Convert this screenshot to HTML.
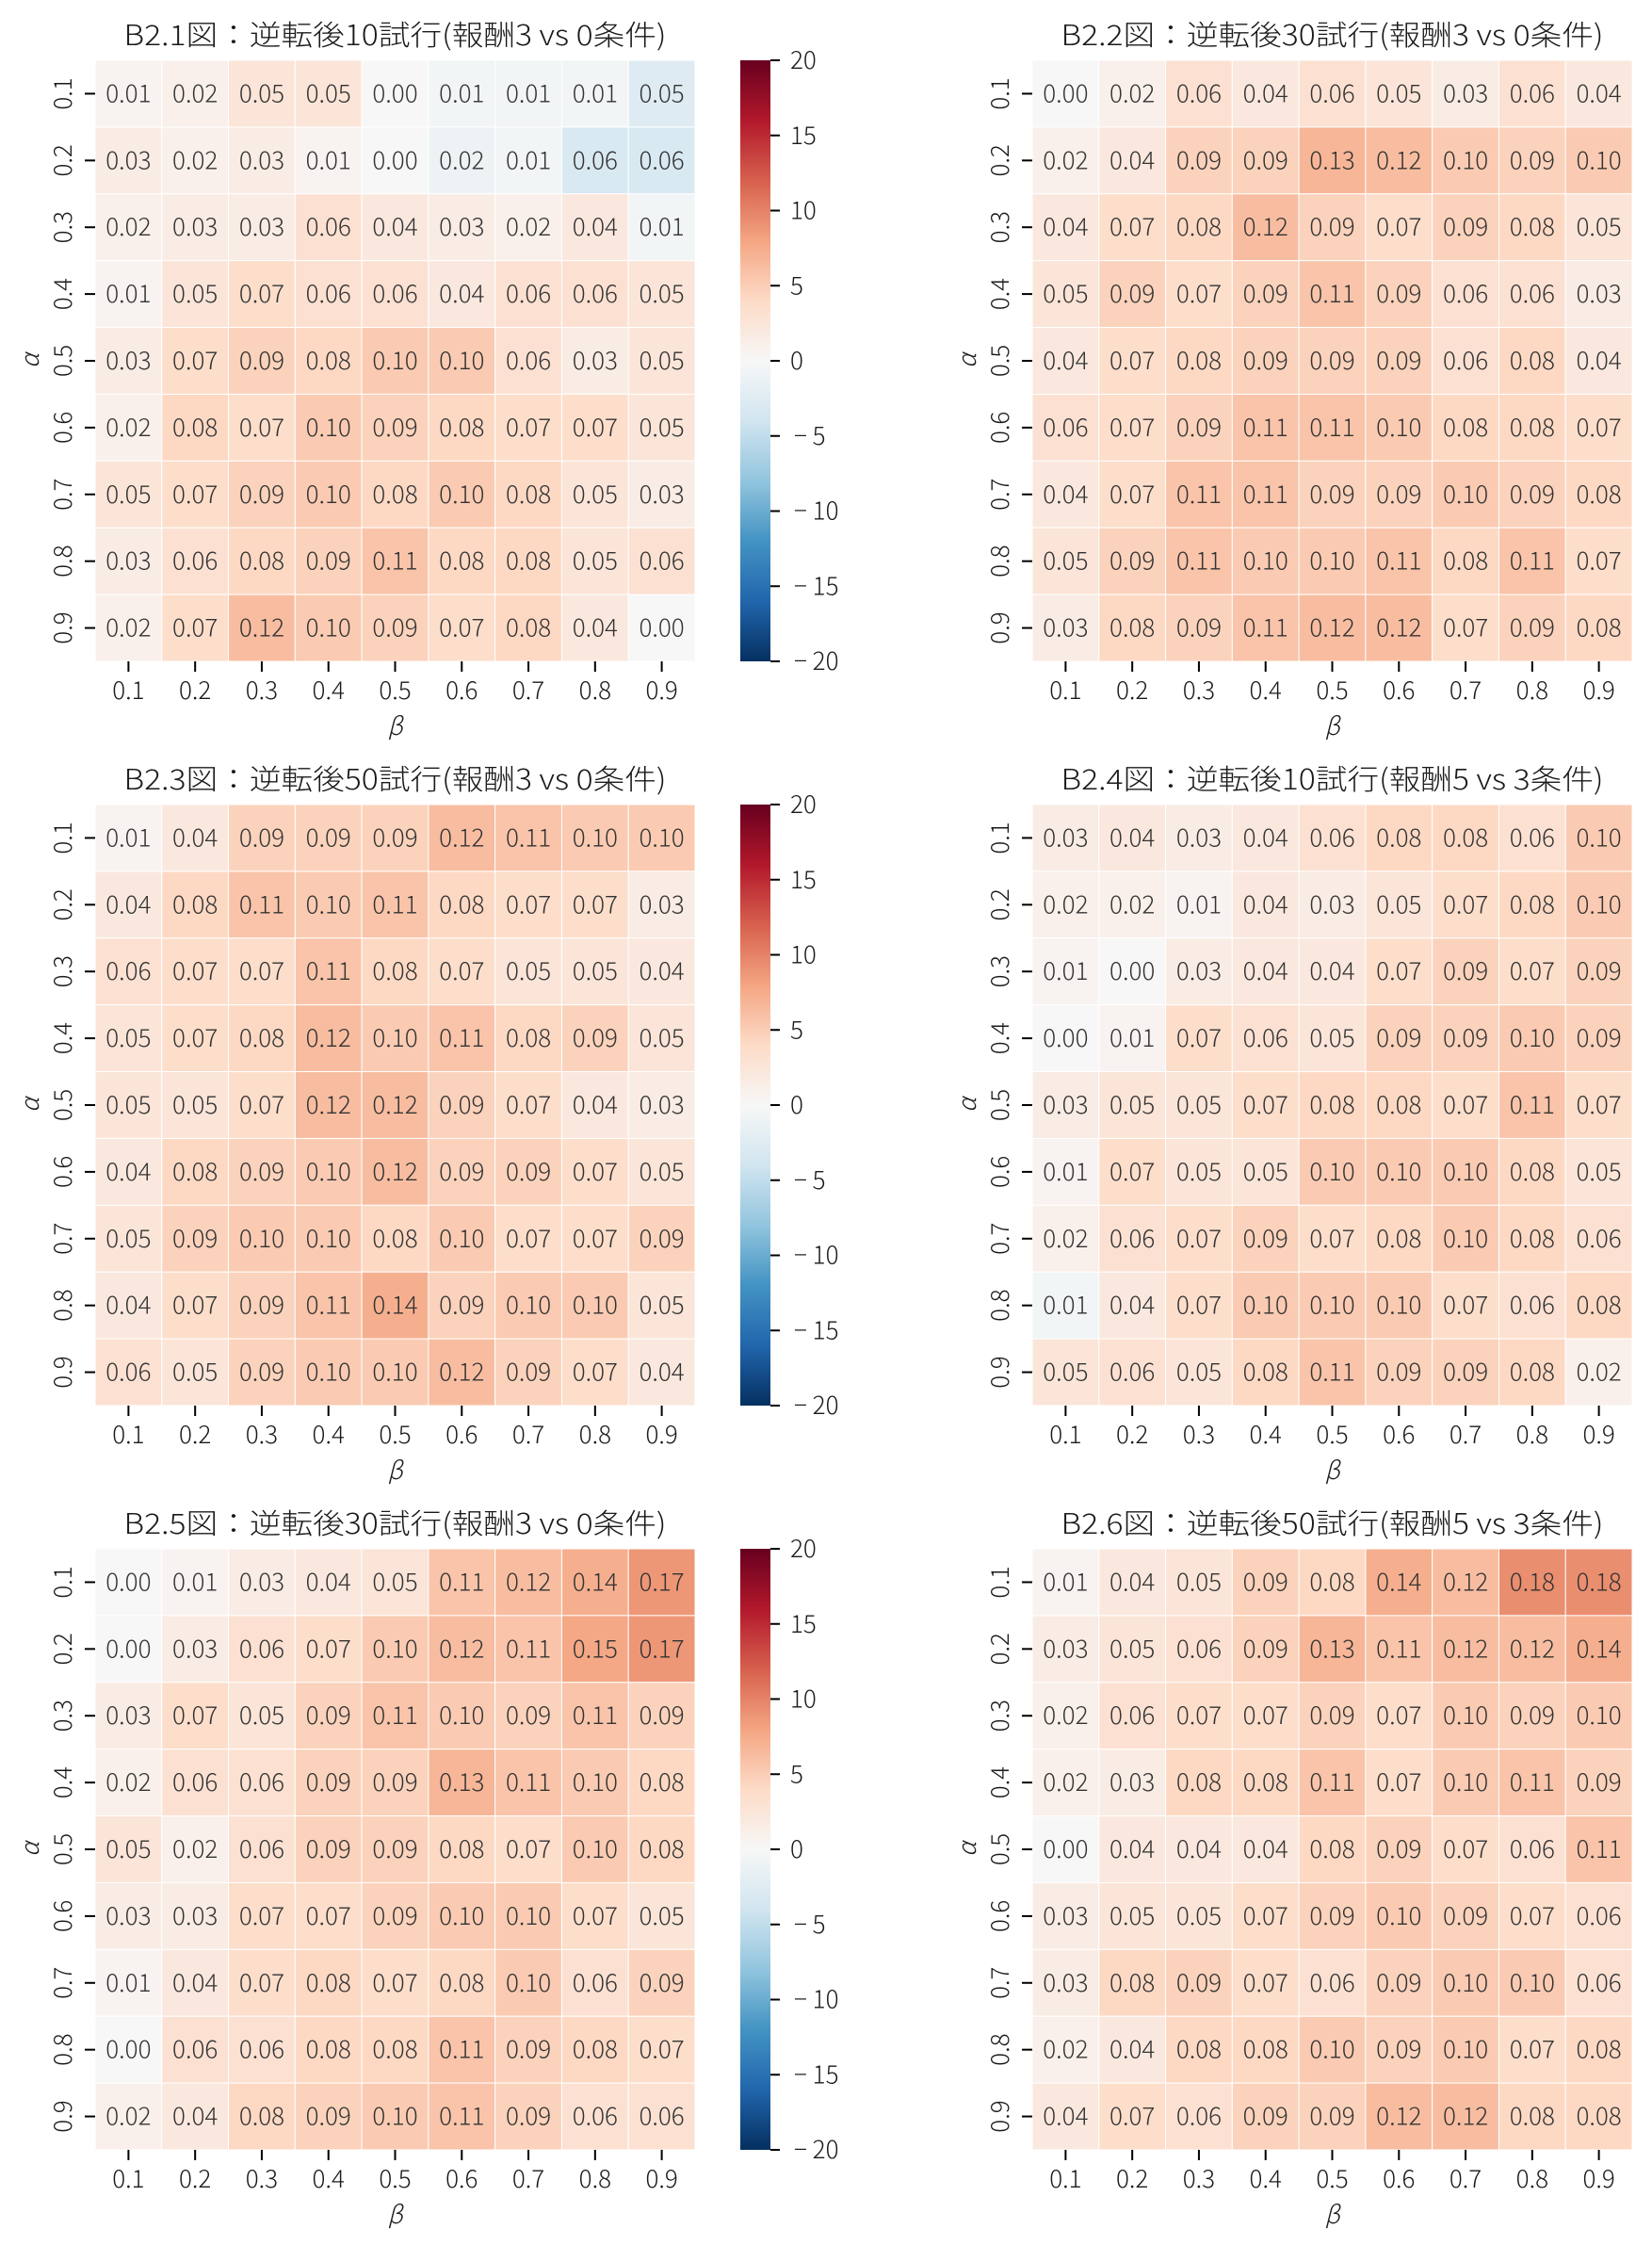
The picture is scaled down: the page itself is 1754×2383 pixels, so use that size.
<!DOCTYPE html>
<html><head><meta charset="utf-8">
<style>
html,body{margin:0;padding:0;background:#fff;}
svg{display:block;font-family:"Noto Sans CJK JP","Liberation Sans",sans-serif;font-weight:300;}
</style></head>
<body>
<svg id="fig" width="1754" height="2383" viewBox="0 0 1754 2383" xmlns="http://www.w3.org/2000/svg">
<defs>
<linearGradient id="cbgrad" x1="0" y1="1" x2="0" y2="0">
<stop offset="0" stop-color="#053061"/><stop offset="0.1" stop-color="#2166ac"/><stop offset="0.2" stop-color="#4393c3"/><stop offset="0.3" stop-color="#92c5de"/><stop offset="0.4" stop-color="#d1e5f0"/><stop offset="0.5" stop-color="#f7f7f7"/><stop offset="0.6" stop-color="#fddbc7"/><stop offset="0.7" stop-color="#f4a582"/><stop offset="0.8" stop-color="#d6604d"/><stop offset="0.9" stop-color="#b2182b"/><stop offset="1" stop-color="#67001f"/>
</linearGradient>
</defs>
</svg>
<script>
const alphaLabels = ["0.1","0.2","0.3","0.4","0.5","0.6","0.7","0.8","0.9"];
const betaLabels = ["0.1","0.2","0.3","0.4","0.5","0.6","0.7","0.8","0.9"];
const cbTicks = [20,15,10,5,0,-5,-10,-15,-20];
const titles = [
 "B2.1図：逆転後10試行(報酬3 vs 0条件)",
 "B2.2図：逆転後30試行(報酬3 vs 0条件)",
 "B2.3図：逆転後50試行(報酬3 vs 0条件)",
 "B2.4図：逆転後10試行(報酬5 vs 3条件)",
 "B2.5図：逆転後30試行(報酬3 vs 0条件)",
 "B2.6図：逆転後50試行(報酬5 vs 3条件)"
];
const dataB21 = [
 [0.01,0.02,0.05,0.05,-0.00,-0.01,-0.01,-0.01,-0.05],
 [0.03,0.02,0.03,0.01,-0.00,-0.02,-0.01,-0.06,-0.06],
 [0.02,0.03,0.03,0.06,0.04,0.03,0.02,0.04,-0.01],
 [0.01,0.05,0.07,0.06,0.06,0.04,0.06,0.06,0.05],
 [0.03,0.07,0.09,0.08,0.10,0.10,0.06,0.03,0.05],
 [0.02,0.08,0.07,0.10,0.09,0.08,0.07,0.07,0.05],
 [0.05,0.07,0.09,0.10,0.08,0.10,0.08,0.05,0.03],
 [0.03,0.06,0.08,0.09,0.11,0.08,0.08,0.05,0.06],
 [0.02,0.07,0.12,0.10,0.09,0.07,0.08,0.04,0.00]
];
const dataB22 = [
 [0.00,0.02,0.06,0.04,0.06,0.05,0.03,0.06,0.04],
 [0.02,0.04,0.09,0.09,0.13,0.12,0.10,0.09,0.10],
 [0.04,0.07,0.08,0.12,0.09,0.07,0.09,0.08,0.05],
 [0.05,0.09,0.07,0.09,0.11,0.09,0.06,0.06,0.03],
 [0.04,0.07,0.08,0.09,0.09,0.09,0.06,0.08,0.04],
 [0.06,0.07,0.09,0.11,0.11,0.10,0.08,0.08,0.07],
 [0.04,0.07,0.11,0.11,0.09,0.09,0.10,0.09,0.08],
 [0.05,0.09,0.11,0.10,0.10,0.11,0.08,0.11,0.07],
 [0.03,0.08,0.09,0.11,0.12,0.12,0.07,0.09,0.08]
];
const dataB23 = [
 [0.01,0.04,0.09,0.09,0.09,0.12,0.11,0.10,0.10],
 [0.04,0.08,0.11,0.10,0.11,0.08,0.07,0.07,0.03],
 [0.06,0.07,0.07,0.11,0.08,0.07,0.05,0.05,0.04],
 [0.05,0.07,0.08,0.12,0.10,0.11,0.08,0.09,0.05],
 [0.05,0.05,0.07,0.12,0.12,0.09,0.07,0.04,0.03],
 [0.04,0.08,0.09,0.10,0.12,0.09,0.09,0.07,0.05],
 [0.05,0.09,0.10,0.10,0.08,0.10,0.07,0.07,0.09],
 [0.04,0.07,0.09,0.11,0.14,0.09,0.10,0.10,0.05],
 [0.06,0.05,0.09,0.10,0.10,0.12,0.09,0.07,0.04]
];
const dataB24 = [
 [0.03,0.04,0.03,0.04,0.06,0.08,0.08,0.06,0.10],
 [0.02,0.02,0.01,0.04,0.03,0.05,0.07,0.08,0.10],
 [0.01,-0.00,0.03,0.04,0.04,0.07,0.09,0.07,0.09],
 [0.00,0.01,0.07,0.06,0.05,0.09,0.09,0.10,0.09],
 [0.03,0.05,0.05,0.07,0.08,0.08,0.07,0.11,0.07],
 [0.01,0.07,0.05,0.05,0.10,0.10,0.10,0.08,0.05],
 [0.02,0.06,0.07,0.09,0.07,0.08,0.10,0.08,0.06],
 [-0.01,0.04,0.07,0.10,0.10,0.10,0.07,0.06,0.08],
 [0.05,0.06,0.05,0.08,0.11,0.09,0.09,0.08,0.02]
];
const dataB25 = [
 [0.00,0.01,0.03,0.04,0.05,0.11,0.12,0.14,0.17],
 [0.00,0.03,0.06,0.07,0.10,0.12,0.11,0.15,0.17],
 [0.03,0.07,0.05,0.09,0.11,0.10,0.09,0.11,0.09],
 [0.02,0.06,0.06,0.09,0.09,0.13,0.11,0.10,0.08],
 [0.05,0.02,0.06,0.09,0.09,0.08,0.07,0.10,0.08],
 [0.03,0.03,0.07,0.07,0.09,0.10,0.10,0.07,0.05],
 [0.01,0.04,0.07,0.08,0.07,0.08,0.10,0.06,0.09],
 [0.00,0.06,0.06,0.08,0.08,0.11,0.09,0.08,0.07],
 [0.02,0.04,0.08,0.09,0.10,0.11,0.09,0.06,0.06]
];
const dataB26 = [
 [0.01,0.04,0.05,0.09,0.08,0.14,0.12,0.18,0.18],
 [0.03,0.05,0.06,0.09,0.13,0.11,0.12,0.12,0.14],
 [0.02,0.06,0.07,0.07,0.09,0.07,0.10,0.09,0.10],
 [0.02,0.03,0.08,0.08,0.11,0.07,0.10,0.11,0.09],
 [0.00,0.04,0.04,0.04,0.08,0.09,0.07,0.06,0.11],
 [0.03,0.05,0.05,0.07,0.09,0.10,0.09,0.07,0.06],
 [0.03,0.08,0.09,0.07,0.06,0.09,0.10,0.10,0.06],
 [0.02,0.04,0.08,0.08,0.10,0.09,0.10,0.07,0.08],
 [0.04,0.07,0.06,0.09,0.09,0.12,0.12,0.08,0.08]
];
const panels = [dataB21,dataB22,dataB23,dataB24,dataB25,dataB26];

const NS = "http://www.w3.org/2000/svg";
const svg = document.getElementById("fig");
const stops = ["#053061","#2166ac","#4393c3","#92c5de","#d1e5f0","#f7f7f7","#fddbc7","#f4a582","#d6604d","#b2182b","#67001f"];
const VMIN=-20, VMAX=20, SCALE=52;
function hex(c){return [1,3,5].map(i=>parseInt(c.substr(i,2),16));}
function cmap(v){
  let t=(v-VMIN)/(VMAX-VMIN); t=Math.max(0,Math.min(1,t));
  const p=t*10, i=Math.min(9,Math.floor(p)), f=p-i;
  const a=hex(stops[i]), b=hex(stops[i+1]);
  return "rgb("+a.map((x,k)=>Math.round(x+(b[k]-x)*f)).join(",")+")";
}
function el(tag,attrs,parent){const e=document.createElementNS(NS,tag);for(const k in attrs)e.setAttribute(k,attrs[k]);parent.appendChild(e);return e;}

const W=637, H=638, N=9;
const cw=W/N, ch=H/N;
const lefts=[101,1096], tops=[64,854,1644];

panels.forEach((data,pi)=>{
  const col=pi%2, row=Math.floor(pi/2);
  const x0=lefts[col], y0=tops[row];
  const xScale=j=>x0+j*cw;
  const yScale=i=>y0+i*ch;
  const g=el("g",{},svg);
  
  
  const title=el("text",{x:x0+W/2,y:y0-16,"text-anchor":"middle","font-size":"30",fill:"#1a1a1a",textLength:"576",lengthAdjust:"spacingAndGlyphs"},g);
  title.textContent=titles[pi];
  
  
  data.forEach((rowv,i)=>rowv.forEach((v,j)=>{
    const r=el("rect",{x:xScale(j),y:yScale(i),width:cw,height:ch,fill:cmap(v*SCALE),stroke:"#fff","stroke-width":"1"},g);
    
    
    const t=el("text",{x:xScale(j)+cw/2,y:yScale(i)+ch/2+9,"text-anchor":"middle","font-size":"26",fill:"#333"},g);
    t.textContent=Math.abs(v).toFixed(2);
    
    
  }));
  alphaLabels.forEach((lab,i)=>{
    const cy=yScale(i)+ch/2;
    el("line",{x1:x0-11,x2:x0,y1:cy,y2:cy,stroke:"#000","stroke-width":"2"},g);
    const t=el("text",{x:0,y:0,"text-anchor":"middle","font-size":"26",fill:"#1a1a1a",transform:"translate("+(x0-25)+","+cy+") rotate(-90)"},g);
    t.textContent=lab;
    
    
  });
  betaLabels.forEach((lab,j)=>{
    const cx=xScale(j)+cw/2;
    el("line",{x1:cx,x2:cx,y1:y0+H,y2:y0+H+11,stroke:"#000","stroke-width":"2"},g);
    const t=el("text",{x:cx,y:y0+H+40,"text-anchor":"middle","font-size":"26",fill:"#1a1a1a"},g);
    t.textContent=lab;
    
    
  });
  const xl=el("text",{x:x0+W/2,y:y0+H+78,"text-anchor":"middle","font-size":"26","font-style":"italic",fill:"#1a1a1a"},g);
  xl.textContent="β";
  
  
  const yl=el("text",{x:0,y:0,"text-anchor":"middle","font-size":"26","font-style":"italic",fill:"#1a1a1a",transform:"translate("+(x0-60)+","+(y0+H/2)+") rotate(-90)"},g);
  yl.textContent="α";
  
  
  if(col===0){
    const cbx=786, cbw=32;
    const cb=el("rect",{x:cbx,y:y0,width:cbw,height:H,fill:"url(#cbgrad)"},g);
    
    
    const cbY=v=>y0+(VMAX-v)/(VMAX-VMIN)*H;
    cbTicks.forEach(v=>{
      const y=cbY(v);
      el("line",{x1:cbx+cbw,x2:cbx+cbw+10,y1:y,y2:y,stroke:"#000","stroke-width":"2"},g);
      const t=el("text",{x:v<0?843:839,y:y+9,"font-size":"26",fill:"#1a1a1a"},g);
      t.textContent=v<0?"− "+Math.abs(v):String(v);
      
      
    });
  }
});
</script>
</body></html>
